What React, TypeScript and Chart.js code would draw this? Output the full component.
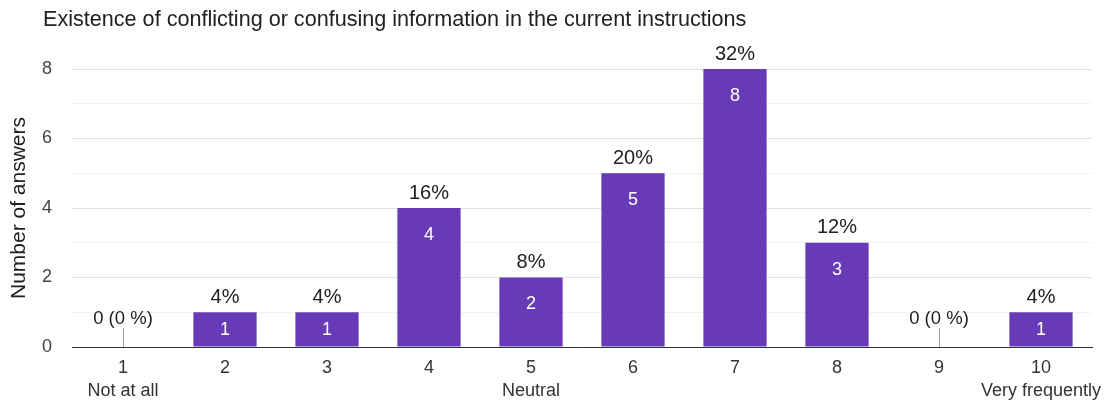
import React, { useEffect, useRef } from "react";
import { Chart, registerables } from "chart.js";

Chart.register(...registerables);

const TITLE = "Existence of conflicting or confusing information in the current instructions";
const Y_TITLE = "Number of answers";
const CATEGORIES = ["1", "2", "3", "4", "5", "6", "7", "8", "9", "10"];
const SUBLABELS = ["Not at all", "", "", "", "Neutral", "", "", "", "", "Very frequently"];
const COUNTS = [0, 1, 1, 4, 2, 5, 8, 3, 0, 1];
const PERCENTS = ["0 (0 %)", "4%", "4%", "16%", "8%", "20%", "32%", "12%", "0 (0 %)", "4%"];

const FONT = "'Liberation Sans', Arial, sans-serif";
const BAR_COLOR = "#673ab7";

const labelPlugin = {
  id: "labelPlugin",
  afterDatasetsDraw(chart: any) {
    const ctx = chart.ctx;
    const meta = chart.getDatasetMeta(0);
    const yScale = chart.scales.y;
    const zeroY = yScale.getPixelForValue(0);
    ctx.save();
    meta.data.forEach((bar: any, i: number) => {
      const v = COUNTS[i];
      const x = bar.x;
      if (v === 0) {
        ctx.strokeStyle = "#9e9e9e";
        ctx.lineWidth = 1;
        ctx.beginPath();
        ctx.moveTo(Math.round(x) + 0.5, zeroY - 19);
        ctx.lineTo(Math.round(x) + 0.5, zeroY);
        ctx.stroke();
        ctx.fillStyle = "#212121";
        ctx.font = `18.5px ${FONT}`;
        ctx.textAlign = "center";
        ctx.textBaseline = "middle";
        ctx.fillText(PERCENTS[i], x, zeroY - 28);
      } else {
        const top = bar.y;
        const h = zeroY - top;
        ctx.fillStyle = "#212121";
        ctx.font = `20px ${FONT}`;
        ctx.textAlign = "center";
        ctx.textBaseline = "middle";
        ctx.fillText(PERCENTS[i], x, top - 15);
        ctx.fillStyle = "#ffffff";
        ctx.font = `18px ${FONT}`;
        ctx.fillText(String(v), x, top + Math.min(h / 2, 27));
      }
    });
    ctx.restore();
  },
  afterDraw(chart: any) {
    const ctx = chart.ctx;
    ctx.save();
    ctx.fillStyle = "#212121";
    ctx.font = `21.6px ${FONT}`;
    ctx.textAlign = "left";
    ctx.textBaseline = "middle";
    ctx.fillText(TITLE, 43, 20);
    ctx.restore();
  },
};

export default function App() {
  const ref = useRef<HTMLCanvasElement>(null);
  useEffect(() => {
    if (!ref.current) return;
    const chart = new Chart(ref.current, {
      type: "bar",
      data: {
        labels: CATEGORIES.map((c, i) => (SUBLABELS[i] ? [c, SUBLABELS[i]] : [c, " "])),
        datasets: [
          {
            data: COUNTS,
            backgroundColor: BAR_COLOR,
            categoryPercentage: 0.62,
            barPercentage: 1,
          },
        ],
      },
      options: {
        responsive: false,
        animation: false,
        layout: { padding: { top: 69, left: 7, right: 26, bottom: 0 } },
        plugins: {
          legend: { display: false },
          tooltip: { enabled: false },
          title: { display: false },
        },
        scales: {
          x: {
            grid: { display: false, drawTicks: false },
            border: { display: true, color: "#333333", width: 1 },
            afterFit: (s: any) => {
              s.height = 56;
            },
            ticks: {
              color: "#333333",
              font: { family: FONT, size: 18, lineHeight: 1.3 },
              padding: 9,
              maxRotation: 0,
              autoSkip: false,
            },
          },
          y: {
            min: 0,
            max: 8,
            border: { display: false },
            afterFit: (s: any) => {
              s.width = 65;
            },
            grid: {
              drawTicks: false,
              color: (c: any) => (c.tick && c.tick.value % 2 === 0 ? "#e0e0e0" : "#f2f2f2"),
            },
            ticks: {
              stepSize: 1,
              color: "#444444",
              font: { family: FONT, size: 18 },
              padding: 20,
              callback: (v: any) => (Number(v) % 2 === 0 ? String(v) : ""),
            },
            title: {
              display: true,
              text: Y_TITLE,
              color: "#212121",
              font: { family: FONT, size: 21 },
              padding: { top: 0, bottom: 11 },
            },
          },
        },
      },
      plugins: [labelPlugin],
    });
    return () => chart.destroy();
  }, []);
  return (
    <div style={{ position: "absolute", left: 0, top: 0, width: 1118, height: 403, background: "#fff" }}>
      <canvas ref={ref} width={1118} height={403} />
    </div>
  );
}
